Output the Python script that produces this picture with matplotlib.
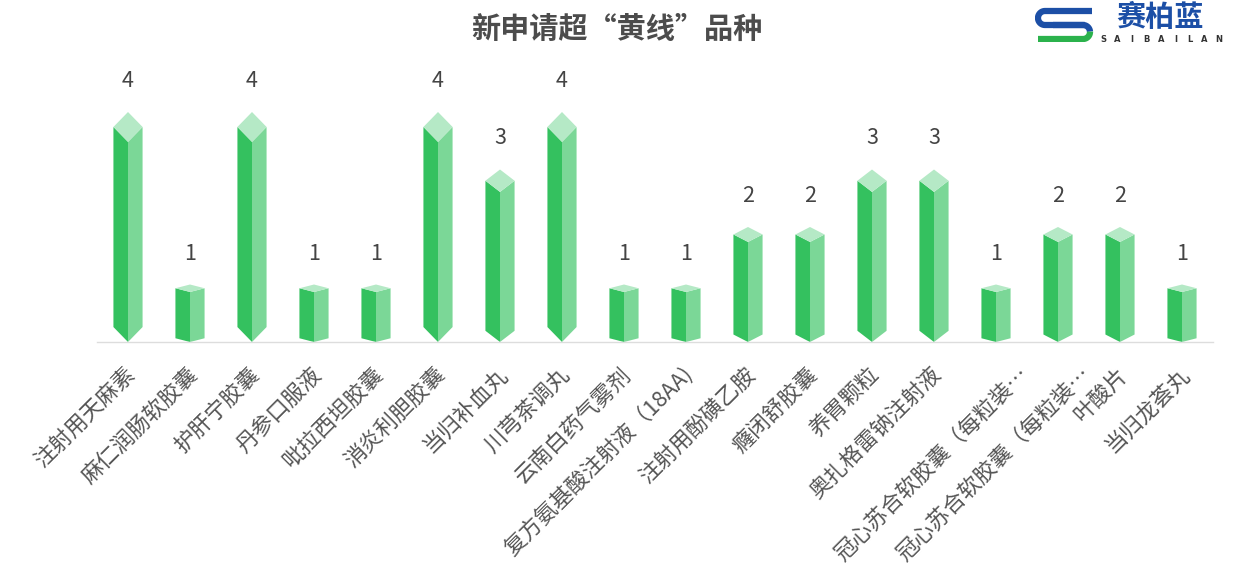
import numpy as np
import matplotlib
matplotlib.use('Agg')
import matplotlib.pyplot as plt
from matplotlib.patches import Polygon
from matplotlib.transforms import ScaledTranslation

plt.rcParams['font.family'] = ['Noto Sans CJK SC', 'DejaVu Sans']

# Data.
categories = ['注射用天麻素', '麻仁润肠软胶囊', '护肝宁胶囊', '丹参口服液', '吡拉西坦胶囊',
              '消炎利胆胶囊', '当归补血丸', '川芎茶调丸', '云南白药气雾剂',
              '复方氨基酸注射液（18AA)', '注射用酚磺乙胺', '癃闭舒胶囊', '养胃颗粒',
              '奥扎格雷钠注射液', '冠心苏合软胶囊（每粒装…', '冠心苏合软胶囊（每粒装…',
              '叶酸片', '当归龙荟丸']
values = [4, 1, 4, 1, 1, 4, 3, 4, 1, 1, 2, 2, 3, 3, 1, 2, 2, 1]
title = '新申请超“黄线”品种'

W, H = 1236, 578
fig = plt.figure(figsize=(W / 100, H / 100), dpi=100)
ax = fig.add_axes([97 / W, (H - 342) / H, (1213 - 97) / W, 287.5 / H])

leftColor = '#34c15f'
rightColor = '#7bd797'
topColor = '#b5e9c6'
halfWidth = 0.235
tip = 0.065  # fraction of bar height used by the pointed ends

for i, v in enumerate(values):
    t = tip * v
    left = [(i - halfWidth, t), (i, 0), (i, v - 2 * t), (i - halfWidth, v - t)]
    right = [(i, 0), (i + halfWidth, t), (i + halfWidth, v - t), (i, v - 2 * t)]
    top = [(i - halfWidth, v - t), (i, v - 2 * t), (i + halfWidth, v - t), (i, v)]
    ax.add_patch(Polygon(left, closed=True, facecolor=leftColor, edgecolor='none'))
    ax.add_patch(Polygon(right, closed=True, facecolor=rightColor, edgecolor='none'))
    ax.add_patch(Polygon(top, closed=True, facecolor=topColor, edgecolor='none'))
    ax.annotate(str(v), (i, v), xytext=(0, 20), textcoords='offset pixels',
                ha='center', va='bottom', fontsize=15.5, color='#444444')

ax.set_xlim(-0.5, len(values) - 0.5)
ax.set_ylim(0, 5)
ax.set_yticks([])
for side in ['top', 'right', 'left']:
    ax.spines[side].set_visible(False)
ax.spines['bottom'].set_color('#dddddd')
ax.spines['bottom'].set_linewidth(1)
ax.set_xticks(range(len(categories)))
ax.set_xticklabels(categories, rotation=45, ha='right', va='center',
                   rotation_mode='anchor', fontsize=15.8, color='#555555')
ax.tick_params(axis='x', length=0, pad=21)
for label in ax.get_xticklabels():
    # truncated labels sit further right in the original
    dx = 30 if label.get_text().endswith('…') else 4
    label.set_transform(label.get_transform() + ScaledTranslation(dx / 100, 0, fig.dpi_scale_trans))

fig.text(617 / W, 1 - 29 / H, title, ha='center', va='center', fontsize=21,
         color='#4c4c4c', fontweight='bold')

# Logo in the top right corner.
logo = fig.add_axes([1035 / W, 1 - 42 / H, 60 / W, 36 / H])
logo.set_xlim(0, 60)
logo.set_ylim(36, 0)
logo.axis('off')
blue = '#1c4fa6'
green = '#2bb24c'
r = 7
theta = np.linspace(np.pi / 2, 3 * np.pi / 2, 30)
xs = np.concatenate([[57], 10 + r * np.cos(theta), [50]])
ys = np.concatenate([[5], 12 - r * np.sin(theta), [19]])
logo.plot(xs, ys, color=blue, lw=4.5, solid_capstyle='butt')
theta2 = np.linspace(-np.pi / 2, np.pi / 2, 30)
xs2 = np.concatenate([[18], 48 + r * np.cos(theta2), [3]])
ys2 = np.concatenate([[19], 26 + r * np.sin(theta2), [33]])
logo.plot(xs2[:16], ys2[:16], color=blue, lw=4.5, solid_capstyle='butt')
logo.plot(xs2[15:], ys2[15:], color=green, lw=4.5, solid_capstyle='butt')

fig.text(1160 / W, 1 - 17 / H, '赛柏蓝', ha='center', va='center', fontsize=21,
         fontweight='bold', color=blue)
for k, ch in enumerate('SAIBAILAN'):
    fig.text((1103 + k * 14.5) / W, 1 - 40 / H, ch, ha='center', va='center',
             fontsize=6, fontweight='bold', color='#333333', family='DejaVu Sans')

fig.savefig('out.png', dpi=100, facecolor='white')
